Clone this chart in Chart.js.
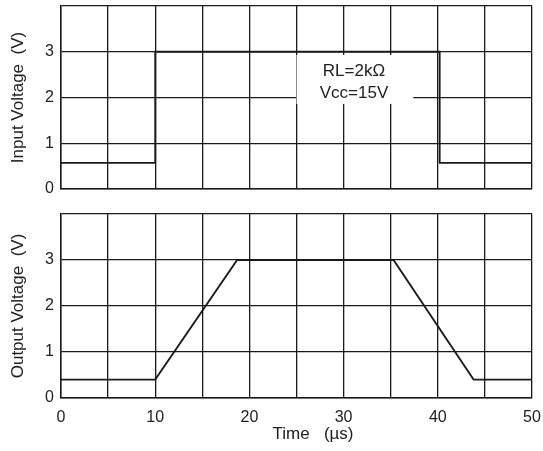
<!DOCTYPE html>
<html>
<head>
<meta charset="utf-8">
<script src="https://cdn.jsdelivr.net/npm/chart.js@4"></script>
<style>
  html, body { margin: 0; padding: 0; background: #fff; }
  #wrap { position: relative; width: 543px; height: 451px; }
  .box { position: absolute; left: 0; width: 543px; }
</style>
</head>
<body>
<div id="wrap">
  <div class="box" style="top:0;height:200px"><canvas id="in-chart"></canvas></div>
  <div class="box" style="top:200px;height:251px"><canvas id="out-chart"></canvas></div>
</div>
<script>
// time axis (us) and voltages
const inputTimes = [0, 10, 10, 40.2, 40.2, 50];
const inputVolts = [0.57, 0.57, 3, 3, 0.57, 0.57];
const outputTimes = [0, 10, 18.7, 35.3, 43.8, 50];
const outputVolts = [0.4, 0.4, 3, 3, 0.4, 0.4];
const noteLines = ['RL=2k\u03A9', 'Vcc=15V'];

const FONT = "'Liberation Sans', Arial, sans-serif";
const INK = '#1a1a1a';

const toPoints = (xs, ys) => xs.map((x, i) => ({ x: x, y: ys[i] }));

// white label box on the top panel
const notePlugin = {
    id: 'note',
    beforeDatasetsDraw(chart) {
        if (chart.canvas.id !== 'in-chart') return;
        const ctx = chart.ctx;
        const xs = chart.scales.x, ys = chart.scales.y;
        const l = xs.getPixelForValue(25), r = xs.getPixelForValue(37.4);
        const t = ys.getPixelForValue(2.93), b = ys.getPixelForValue(1.86);
        ctx.save();
        ctx.fillStyle = '#fff';
        ctx.fillRect(l, t, r - l, b - t);
        ctx.fillStyle = '#222';
        ctx.font = '17px ' + FONT;
        ctx.textAlign = 'center';
        ctx.textBaseline = 'middle';
        const cx = xs.getPixelForValue(31.1);
        ctx.fillText(noteLines[0], cx, ys.getPixelForValue(2.58));
        ctx.fillText(noteLines[1], cx, ys.getPixelForValue(2.09));
        ctx.restore();
    }
};

const makeChart = (id, times, volts, yTitle, showX, pad) => {
    const ctx = document.getElementById(id).getContext('2d');
    return new Chart(ctx, {
        type: 'line',
        data: {
            datasets: [{
                data: toPoints(times, volts),
                borderColor: INK,
                borderWidth: 1.8,
                pointRadius: 0,
                tension: 0,
                fill: false
            }]
        },
        options: {
            responsive: true,
            maintainAspectRatio: false,
            animation: false,
            layout: { padding: pad },
            plugins: { legend: { display: false }, tooltip: { enabled: false } },
            scales: {
                x: {
                    type: 'linear',
                    min: 0,
                    max: 50,
                    border: { color: INK, width: 1.5 },
                    grid: { color: INK, lineWidth: 1.3, drawTicks: false },
                    ticks: {
                        display: showX,
                        stepSize: 5,
                        padding: 10,
                        color: '#222',
                        font: { family: FONT, size: 16 },
                        callback: (v) => (v % 10 === 0 ? v : '')
                    },
                    title: {
                        display: showX,
                        text: '       Time   (\u00B5s)',
                        color: '#222',
                        font: { family: FONT, size: 17 },
                        padding: { top: 0, bottom: 6 }
                    },
                    afterFit: (s) => {
                        s.height = showX ? 53 : 0;
                        s.paddingLeft = 0;
                        s.paddingRight = 0;
                    }
                },
                y: {
                    min: 0,
                    max: 4,
                    border: { color: INK, width: 1.5 },
                    grid: { color: INK, lineWidth: 1.3, drawTicks: false },
                    ticks: {
                        stepSize: 1,
                        padding: 7,
                        color: '#222',
                        font: { family: FONT, size: 16 },
                        callback: (v) => (v === 4 ? '' : v)
                    },
                    title: {
                        display: true,
                        text: yTitle,
                        color: '#222',
                        font: { family: FONT, size: 17 },
                        padding: { top: 8, bottom: 0 }
                    },
                    afterFit: (s) => {
                        s.width = 61;
                        s.paddingTop = 0;
                        s.paddingBottom = 0;
                    }
                }
            }
        },
        plugins: [notePlugin]
    });
};

makeChart('in-chart', inputTimes, inputVolts, 'Input Voltage  (V)', false,
    { top: 6, right: 11, bottom: 11, left: 0 });
makeChart('out-chart', outputTimes, outputVolts, 'Output Voltage  (V)', true,
    { top: 14, right: 11, bottom: 0, left: 0 });
</script>
</body>
</html>
